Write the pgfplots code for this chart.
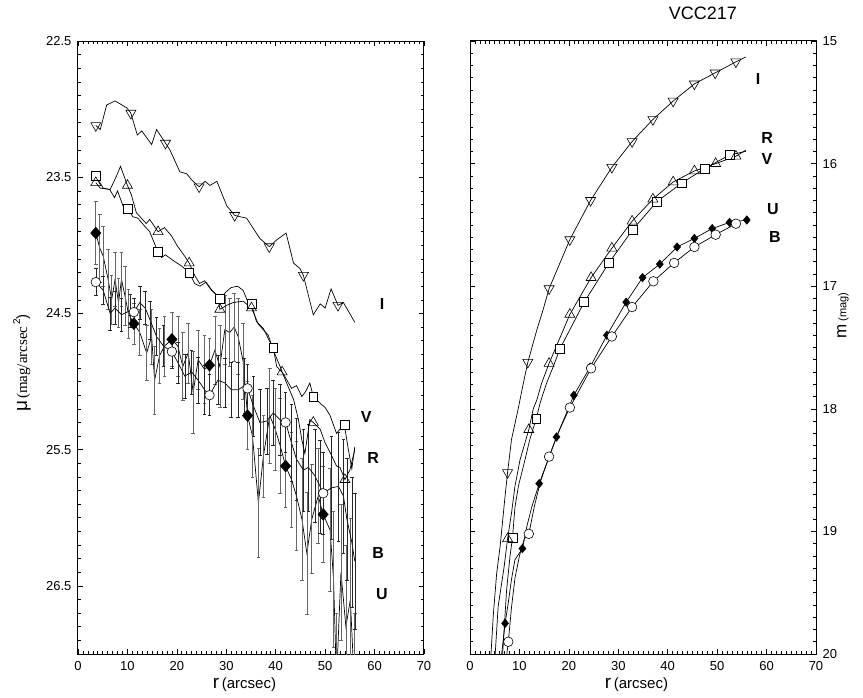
\documentclass[border=0pt]{standalone}
\usepackage{fontspec}
\setmainfont{Liberation Sans}
\newfontfamily\serifface{Liberation Serif}
\usepackage{pgfplots}
\usepackage{pgfplotstable}
\pgfplotsset{compat=1.18}

% ---------- surface-brightness profiles (r [arcsec], mu [mag/arcsec^2]) ----------
\pgfplotstableread{
r     mu
3.6   23.12
4.5   23.15
5.8   22.97
7.5   22.94
9.85  22.99
10.7  23.03
12.0  23.19
12.9  23.16
14.9  23.26
15.9  23.15
17.7  23.25
18.6  23.30
20.6  23.46
22.0  23.475
23.0  23.52
24.5  23.57
25.7  23.53
26.7  23.56
28.1  23.53
30.1  23.71
31.7  23.78
32.8  23.79
34.1  23.80
36.8  23.95
38.7  24.01
40.2  23.96
42.1  23.91
43.6  24.13
44.9  24.17
45.6  24.22
47.6  24.51
49.0  24.43
50.0  24.46
51.2  24.32
52.6  24.44
53.7  24.42
56.0  24.565
}\profI

\pgfplotstableread{
r     mu
3.6   23.49
5.1   23.58
6.4   23.59
7.4   23.65
8.0   23.60
9.1   23.71
10.0  23.73
11.1  23.79
12.1  23.80
13.5  23.86
14.5  23.90
16.2  24.05
16.9  24.09
17.7  24.07
19.6  24.12
20.9  24.15
22.5  24.20
23.6  24.28
24.7  24.30
25.9  24.27
27.1  24.33
28.7  24.39
30.0  24.34
31.0  24.31
32.3  24.30
33.4  24.33
34.2  24.40
35.1  24.43
36.1  24.56
37.5  24.61
38.7  24.70
39.5  24.75
40.2  24.89
41.5  24.94
43.2  25.05
44.2  25.03
45.3  25.11
46.1  25.07
46.9  25.01
47.6  25.11
49.0  25.16
50.0  25.19
51.0  25.25
52.3  25.38
53.0  25.35
53.9  25.32
54.7  25.50
55.4  25.64
56.0  25.48
}\profV

\pgfplotstableread{
r     mu
3.6   23.54
4.5   23.58
6.5   23.59
7.8   23.49
8.6   23.42
9.4   23.50
10.0  23.56
10.8  23.63
11.8  23.76
12.8  23.80
13.8  23.84
14.5  23.81
16.2  23.90
17.5  23.87
18.9  23.93
20.2  24.01
21.6  24.08
22.5  24.13
23.6  24.22
24.6  24.28
25.6  24.26
27.0  24.33
28.3  24.37
28.7  24.47
30.1  24.44
31.4  24.42
33.4  24.41
35.1  24.46
36.5  24.58
37.5  24.62
38.5  24.66
39.5  24.77
40.9  24.89
41.3  24.93
42.2  25.01
43.6  25.13
44.6  25.28
45.3  25.43
45.9  25.53
46.9  25.28
47.6  25.30
49.0  25.35
50.0  25.45
51.0  25.52
52.3  25.62
53.0  25.63
54.0  25.72
55.0  25.65
56.0  25.50
}\profR

\pgfplotstableread{
r     mu      e
3.6   24.27   0.10
5.1   24.33   0.10
6.5   24.50   0.12
7.5   24.46   0.12
8.8   24.51   0.12
10.5  24.48   0.12
11.3  24.49   0.10
12.5  24.42   0.12
13.6  24.46   0.12
14.6  24.55   0.14
15.9  24.67   0.14
17.3  24.74   0.15
19.0  24.78   0.12
20.2  24.86   0.15
21.6  24.96   0.16
23.0  24.93   0.16
24.3  24.99   0.17
25.6  25.06   0.18
26.6  25.10   0.15
28.3  24.99   0.18
29.7  25.01   0.18
31.0  25.06   0.20
32.4  25.06   0.20
33.7  25.03   0.20
34.3  25.05   0.18
35.5  25.18   0.22
36.8  25.30   0.24
38.2  25.29   0.24
39.5  25.23   0.24
40.9  25.28   0.26
42.0  25.30   0.22
43.2  25.45   0.28
44.2  25.57   0.30
45.6  25.65   0.30
46.6  25.63   0.32
47.9  25.69   0.34
49.0  25.77   0.34
49.6  25.82   0.30
51.3  25.78   0.38
52.7  25.77   0.40
53.7  25.84   0.42
54.4  26.01   0.45
55.4  26.18   0.48
56.0  26.32   0.50
}\profB

\pgfplotstableread{
r     mu      e
3.6   23.91   0.23
4.4   24.02   0.25
5.1   24.08   0.22
6.1   24.25   0.22
6.8   24.40   0.18
7.5   24.25   0.20
8.2   24.42   0.18
8.8   24.25   0.20
9.5   24.37   0.22
10.2  24.50   0.18
11.3  24.575  0.15
12.5  24.64   0.17
13.9  24.79   0.20
14.9  24.67   0.20
15.5  24.99   0.25
16.5  24.81   0.20
17.5  24.74   0.22
19.0  24.69   0.20
20.2  24.74   0.22
21.2  24.89   0.25
22.3  24.79   0.22
23.3  25.08   0.30
24.3  24.84   0.22
25.6  24.91   0.25
26.6  24.88   0.20
27.7  24.77   0.25
28.7  24.89   0.30
29.7  24.62   0.25
30.7  24.64   0.25
31.6  24.60   0.25
32.4  24.67   0.28
33.4  24.85   0.28
34.3  25.25   0.25
35.3  25.40   0.30
36.5  25.89   0.40
37.5  25.55   0.30
38.8  25.25   0.35
39.9  25.35   0.30
40.9  25.47   0.35
42.0  25.62   0.30
43.2  25.72   0.35
44.2  25.84   0.40
45.3  26.01   0.45
46.3  26.26   0.45
47.3  26.01   0.40
48.6  25.84   0.35
49.6  25.975  0.35
51.0  26.09   0.45
51.7  26.45   0.50
52.3  27.20   0.50
53.2  26.40   0.50
54.2  26.80   0.60
55.1  26.60   0.60
56.0  27.30   0.60
}\profU

% ---------- growth curves (r [arcsec], m [mag]) ----------
\pgfplotstableread{
r     m
4.0   20.30
4.25  20.00
4.7   19.69
5.4   19.34
6.1   19.12
7.1   18.71
7.6   18.52
8.4   18.25
9.8   17.99
10.8  17.79
11.7  17.62
13.5  17.36
14.8  17.19
16.0  17.02
20.2  16.62
24.4  16.30
28.7  16.03
32.8  15.82
37.0  15.64
41.1  15.49
45.4  15.35
49.6  15.26
53.8  15.17
55.8  15.13
}\growI

\pgfplotstableread{
r     m
4.9   20.20
5.1   20.00
5.7   19.61
6.9   19.29
7.6   19.06
8.4   18.85
9.1   18.63
10.1  18.42
11.1  18.28
11.9  18.17
12.8  18.00
13.5  17.93
14.5  17.79
16.0  17.63
20.2  17.23
24.5  16.93
28.7  16.69
32.8  16.47
37.0  16.29
41.1  16.15
45.4  16.06
49.7  16.00
53.8  15.94
55.8  15.89
}\growR

\pgfplotstableread{
r     m
6.4   20.20
6.6   20.00
7.4   19.48
8.1   19.20
8.6   19.05
9.1   18.80
9.8   18.63
11.1  18.42
12.1  18.25
13.4  18.08
14.2  17.95
15.5  17.79
16.9  17.65
18.2  17.51
23.1  17.13
28.1  16.81
32.9  16.54
37.8  16.31
42.8  16.16
47.5  16.04
52.5  15.93
55.8  15.90
}\growV

\pgfplotstableread{
r     m
6.2   20.20
6.4   20.00
7.1   19.75
7.75  19.58
8.4   19.39
9.1   19.23
10.6  19.14
11.5  18.96
12.5  18.80
14.0  18.61
17.5  18.23
21.0  17.89
24.3  17.66
27.7  17.40
31.6  17.13
34.9  16.93
38.4  16.82
41.9  16.68
45.4  16.61
49.0  16.53
52.5  16.48
56.0  16.46
}\growU

\pgfplotstableread{
r     m
7.3   20.20
7.45  20.00
7.75  19.90
8.4   19.62
9.1   19.38
10.0  19.20
11.0  19.06
11.9  19.02
13.0  18.80
14.2  18.60
16.0  18.39
18.0  18.18
20.2  17.99
24.5  17.67
28.7  17.41
32.8  17.17
37.1  16.96
41.3  16.81
45.4  16.68
49.7  16.58
53.8  16.49
}\growB

\pgfplotsset{
  panel/.style={
    scale only axis, width=346pt, height=613pt,
    xmin=0, xmax=70, y dir=reverse,
    xtick={0,10,...,70}, minor x tick num=9,
    tick align=inside,
    major tick length=5pt, minor tick length=3pt,
    every tick/.append style={black, line width=0.6pt},
    axis line style={line width=1pt},
    tick label style={font=\fontsize{13}{13}\selectfont},
    xticklabel style={yshift=-3.5pt},
    /pgf/number format/assume math mode=true,
    xlabel={{\fontsize{19}{19}\selectfont r} {\fontsize{15}{15}\selectfont (arcsec)}},
    xlabel style={at={(axis description cs:0.481,-0.057)}, anchor=base},
  },
  prof/.style={black, line width=0.7pt},
  ebarsU/.style={error bars/.cd, y dir=both, y explicit,
    error bar style={black!60, line width=0.6pt},
    error mark options={rotate=90, black!60, mark size=1.8pt, line width=0.5pt}},
  ebarsB/.style={error bars/.cd, y dir=both, y explicit,
    error bar style={black!85, line width=0.5pt},
    error mark options={rotate=90, black!85, mark size=1.8pt, line width=0.5pt}},
  mkI/.style={only marks, mark=triangle, mark size=5.8pt,
    mark options={rotate=180, fill=white, draw=black, line width=0.6pt}},
  mkR/.style={only marks, mark=triangle, mark size=5.8pt,
    mark options={fill=white, draw=black, line width=0.6pt}},
  mkV/.style={only marks, mark=square*, mark size=4.4pt,
    mark options={fill=white, draw=black, line width=0.6pt}},
  mkB/.style={only marks, mark=*, mark size=4.8pt,
    mark options={fill=white, draw=black, line width=0.6pt}},
}
\tikzset{bandlabel/.style={font=\bfseries\fontsize{16}{16}\selectfont}}

\begin{document}
\begin{tikzpicture}
\path[use as bounding box] (-78pt,-44pt) rectangle (785pt,654pt);

% ---------------- left: surface brightness ----------------
\begin{axis}[panel,
  ymin=22.5, ymax=27,
  ytick={22.5,23.5,24.5,25.5,26.5},
  minor ytick={22.6,22.7,...,27.0},
  yticklabel style={xshift=-3pt, /pgf/number format/.cd, fixed, fixed zerofill, precision=1},
  ylabel={{\fontsize{19}{19}\selectfont μ}\,{\serifface\fontsize{15}{15}\selectfont (mag/arcsec}\,\raisebox{7pt}{\fontsize{10}{10}\selectfont 2}{\fontsize{15}{15}\selectfont )}},
  ylabel style={at={(axis description cs:-0.147,0.475)}, anchor=base},
]
\addplot[prof, ebarsU] table[x=r, y=mu, y error=e] {\profU};
\addplot[prof, ebarsB] table[x=r, y=mu, y error=e] {\profB};
\addplot[prof] table[x=r, y=mu] {\profI};
\addplot[prof] table[x=r, y=mu] {\profV};
\addplot[prof] table[x=r, y=mu] {\profR};

\addplot[mkI] coordinates {(3.6,23.12) (10.7,23.03) (17.7,23.25) (24.5,23.57)
  (31.7,23.78) (38.7,24.01) (45.6,24.22) (52.6,24.44)};
\addplot[mkV] coordinates {(3.6,23.49) (10.0,23.73) (16.2,24.05) (22.5,24.20)
  (28.7,24.39) (35.1,24.43) (39.5,24.75) (47.6,25.11) (53.9,25.32)};
\addplot[mkR] coordinates {(3.6,23.54) (10.0,23.56) (16.2,23.90) (22.5,24.13)
  (28.7,24.47) (35.1,24.46) (41.3,24.93) (47.6,25.30) (54.0,25.72)};
\addplot[mkB] coordinates {(3.6,24.27) (11.3,24.49) (19.0,24.78) (26.6,25.10)
  (34.3,25.05) (42.0,25.30) (49.6,25.82)};
\addplot[only marks, mark=diamond*, mark size=6pt, mark options={xscale=1.15, fill=black}]
  coordinates {(3.6,23.91) (11.3,24.575) (19.0,24.69) (26.6,24.88)
  (34.3,25.25) (42.0,25.62) (49.6,25.975)};

\node[bandlabel] at (axis cs:61.5,24.43) {I};
\node[bandlabel] at (axis cs:58.3,25.26) {V};
\node[bandlabel] at (axis cs:59.7,25.56) {R};
\node[bandlabel] at (axis cs:60.7,26.26) {B};
\node[bandlabel] at (axis cs:61.5,26.56) {U};
\end{axis}

% ---------------- right: growth curves ----------------
\begin{axis}[panel, at={(392pt,0pt)},
  ymin=15, ymax=20,
  ytick={15,16,...,20}, minor y tick num=9,
  yticklabel pos=right,
  yticklabel style={xshift=3pt},
  ylabel={{\fontsize{17}{17}\selectfont m} {\fontsize{11}{11}\selectfont (mag)}},
  ylabel style={at={(axis description cs:1.088,0.552)}, anchor=base},
  title={VCC217},
  title style={at={(axis description cs:0.673,1.026)}, anchor=base, font=\fontsize{18}{18}\selectfont},
]
\addplot[prof] table[x=r, y=m] {\growI};
\addplot[prof] table[x=r, y=m] {\growR};
\addplot[prof] table[x=r, y=m] {\growV};
\addplot[prof] table[x=r, y=m] {\growU};
\addplot[prof] table[x=r, y=m] {\growB};

\addplot[mkI] coordinates {(7.6,18.52) (11.7,17.62) (16.0,17.02) (20.2,16.62)
  (24.4,16.30) (28.7,16.03) (32.8,15.82) (37.0,15.64) (41.1,15.49)
  (45.4,15.35) (49.6,15.26) (53.8,15.17)};
\addplot[mkV] coordinates {(8.6,19.05) (13.4,18.08) (18.2,17.51) (23.1,17.13)
  (28.1,16.81) (32.9,16.54) (37.8,16.31) (42.8,16.16) (47.5,16.04) (52.5,15.93)};
\addplot[mkR] coordinates {(7.6,19.06) (11.9,18.17) (16.0,17.63) (20.2,17.23)
  (24.5,16.93) (28.7,16.69) (32.8,16.47) (37.0,16.29) (41.1,16.15)
  (45.4,16.06) (49.7,16.00) (53.8,15.94)};
\addplot[only marks, mark=diamond*, mark size=4.3pt, mark options={xscale=1.1, fill=black}]
  coordinates {(7.1,19.75) (10.6,19.14) (14.0,18.61) (17.5,18.23) (21.0,17.89)
  (24.3,17.66) (27.7,17.40) (31.6,17.13) (34.9,16.93) (38.4,16.82) (41.9,16.68)
  (45.4,16.61) (49.0,16.53) (52.5,16.48) (56.0,16.46)};
\addplot[mkB] coordinates {(7.75,19.90) (11.9,19.02) (16.0,18.39) (20.2,17.99)
  (24.5,17.67) (28.7,17.41) (32.8,17.17) (37.1,16.96) (41.3,16.81)
  (45.4,16.68) (49.7,16.58) (53.8,16.49)};

\node[bandlabel] at (axis cs:58.3,15.31) {I};
\node[bandlabel] at (axis cs:60.1,15.79) {R};
\node[bandlabel] at (axis cs:60.1,15.96) {V};
\node[bandlabel] at (axis cs:61.3,16.37) {U};
\node[bandlabel] at (axis cs:61.7,16.60) {B};
\end{axis}
\end{tikzpicture}
\end{document}
